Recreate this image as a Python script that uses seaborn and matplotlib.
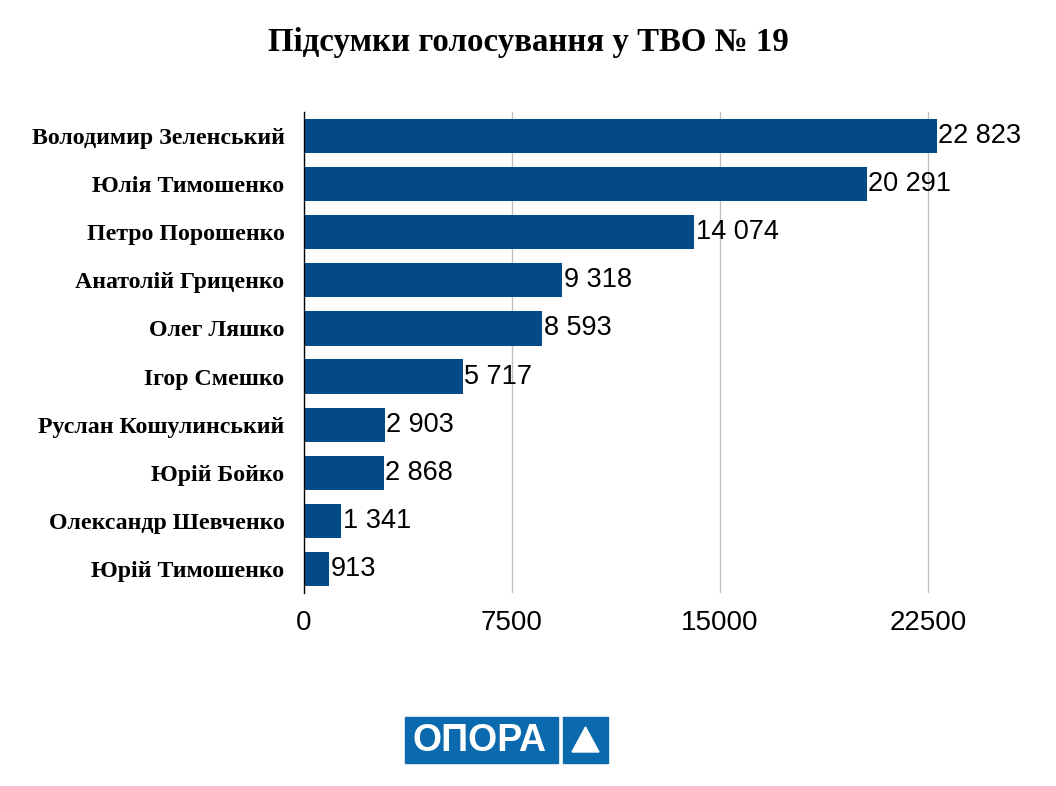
import matplotlib
matplotlib.use('Agg')
import matplotlib.pyplot as plt
import seaborn as sns
import pandas as pd
from matplotlib.patches import Rectangle, Polygon

# дані
candidates = [
    'Володимир Зеленський', 'Юлія Тимошенко', 'Петро Порошенко',
    'Анатолій Гриценко', 'Олег Ляшко', 'Ігор Смешко',
    'Руслан Кошулинський', 'Юрій Бойко', 'Олександр Шевченко',
    'Юрій Тимошенко'
]
votes = [22823, 20291, 14074, 9318, 8593, 5717, 2903, 2868, 1341, 913]
x_ticks = [0, 7500, 15000, 22500]

df = pd.DataFrame({'candidate': candidates, 'votes': votes})

sns.set_theme(style='white')
plt.rcParams['font.family'] = ['Liberation Sans', 'DejaVu Sans']
plt.rcParams['text.color'] = 'black'
plt.rcParams['xtick.color'] = 'black'
plt.rcParams['ytick.color'] = 'black'

fig = plt.figure(figsize=(10.56, 7.86), dpi=100)
ax = fig.add_axes([304 / 1056, 1 - 593 / 786, (1025 - 304) / 1056, (593 - 112) / 786])

sns.barplot(data=df, x='votes', y='candidate', color='#034a87', width=0.71,
            saturation=1, edgecolor='none', linewidth=0, ax=ax, zorder=3)

ax.set_xlim(0, 26000)
ax.set_xticks(x_ticks)
ax.set_xticklabels([str(t) for t in x_ticks], fontsize=20)
ax.tick_params(axis='x', length=0, pad=12)
ax.tick_params(axis='y', length=0, pad=14)
for lbl in ax.get_yticklabels():
    lbl.set_fontfamily(['Liberation Serif', 'DejaVu Serif'])
    lbl.set_fontweight('bold')
    lbl.set_fontsize(17.2)
    lbl.set_color('black')
ax.set_xlabel('')
ax.set_ylabel('')

for t in x_ticks[1:]:
    ax.axvline(t, color='#c0c0c0', lw=1, zorder=1)

for s in ['top', 'right', 'bottom']:
    ax.spines[s].set_visible(False)
ax.spines['left'].set_color('black')
ax.spines['left'].set_linewidth(1)
ax.spines['left'].set_zorder(5)

labels = [f'{v:,}'.replace(',', ' ') for v in votes]
ax.bar_label(ax.containers[0], labels=labels, padding=1, fontsize=19.5, color='black')

fig.text(0.5, 1 - 43 / 786, 'Підсумки голосування у ТВО № 19', ha='center', va='center',
         fontsize=23.7, fontweight='bold', color='black',
         family=['Liberation Serif', 'DejaVu Serif'])

# логотип ОПОРА
W, H = 1056, 786
blue = '#0a6aad'
fig.patches.append(Rectangle((405 / W, 1 - 763 / H), (558 - 405) / W, (763 - 717) / H,
                             transform=fig.transFigure, color=blue, zorder=5))
fig.patches.append(Rectangle((563 / W, 1 - 763 / H), (608 - 563) / W, (763 - 717) / H,
                             transform=fig.transFigure, color=blue, zorder=5))
fig.patches.append(Polygon([(572 / W, 1 - 752 / H), (599 / W, 1 - 752 / H), (585.5 / W, 1 - 727 / H)],
                           closed=True, transform=fig.transFigure, color='white', zorder=6))
fig.text(480 / W, 1 - 741 / H, 'ОПОРА', ha='center', va='center', color='white',
         fontsize=27, fontweight='bold', zorder=7)

fig.savefig('out.png', dpi=100)
